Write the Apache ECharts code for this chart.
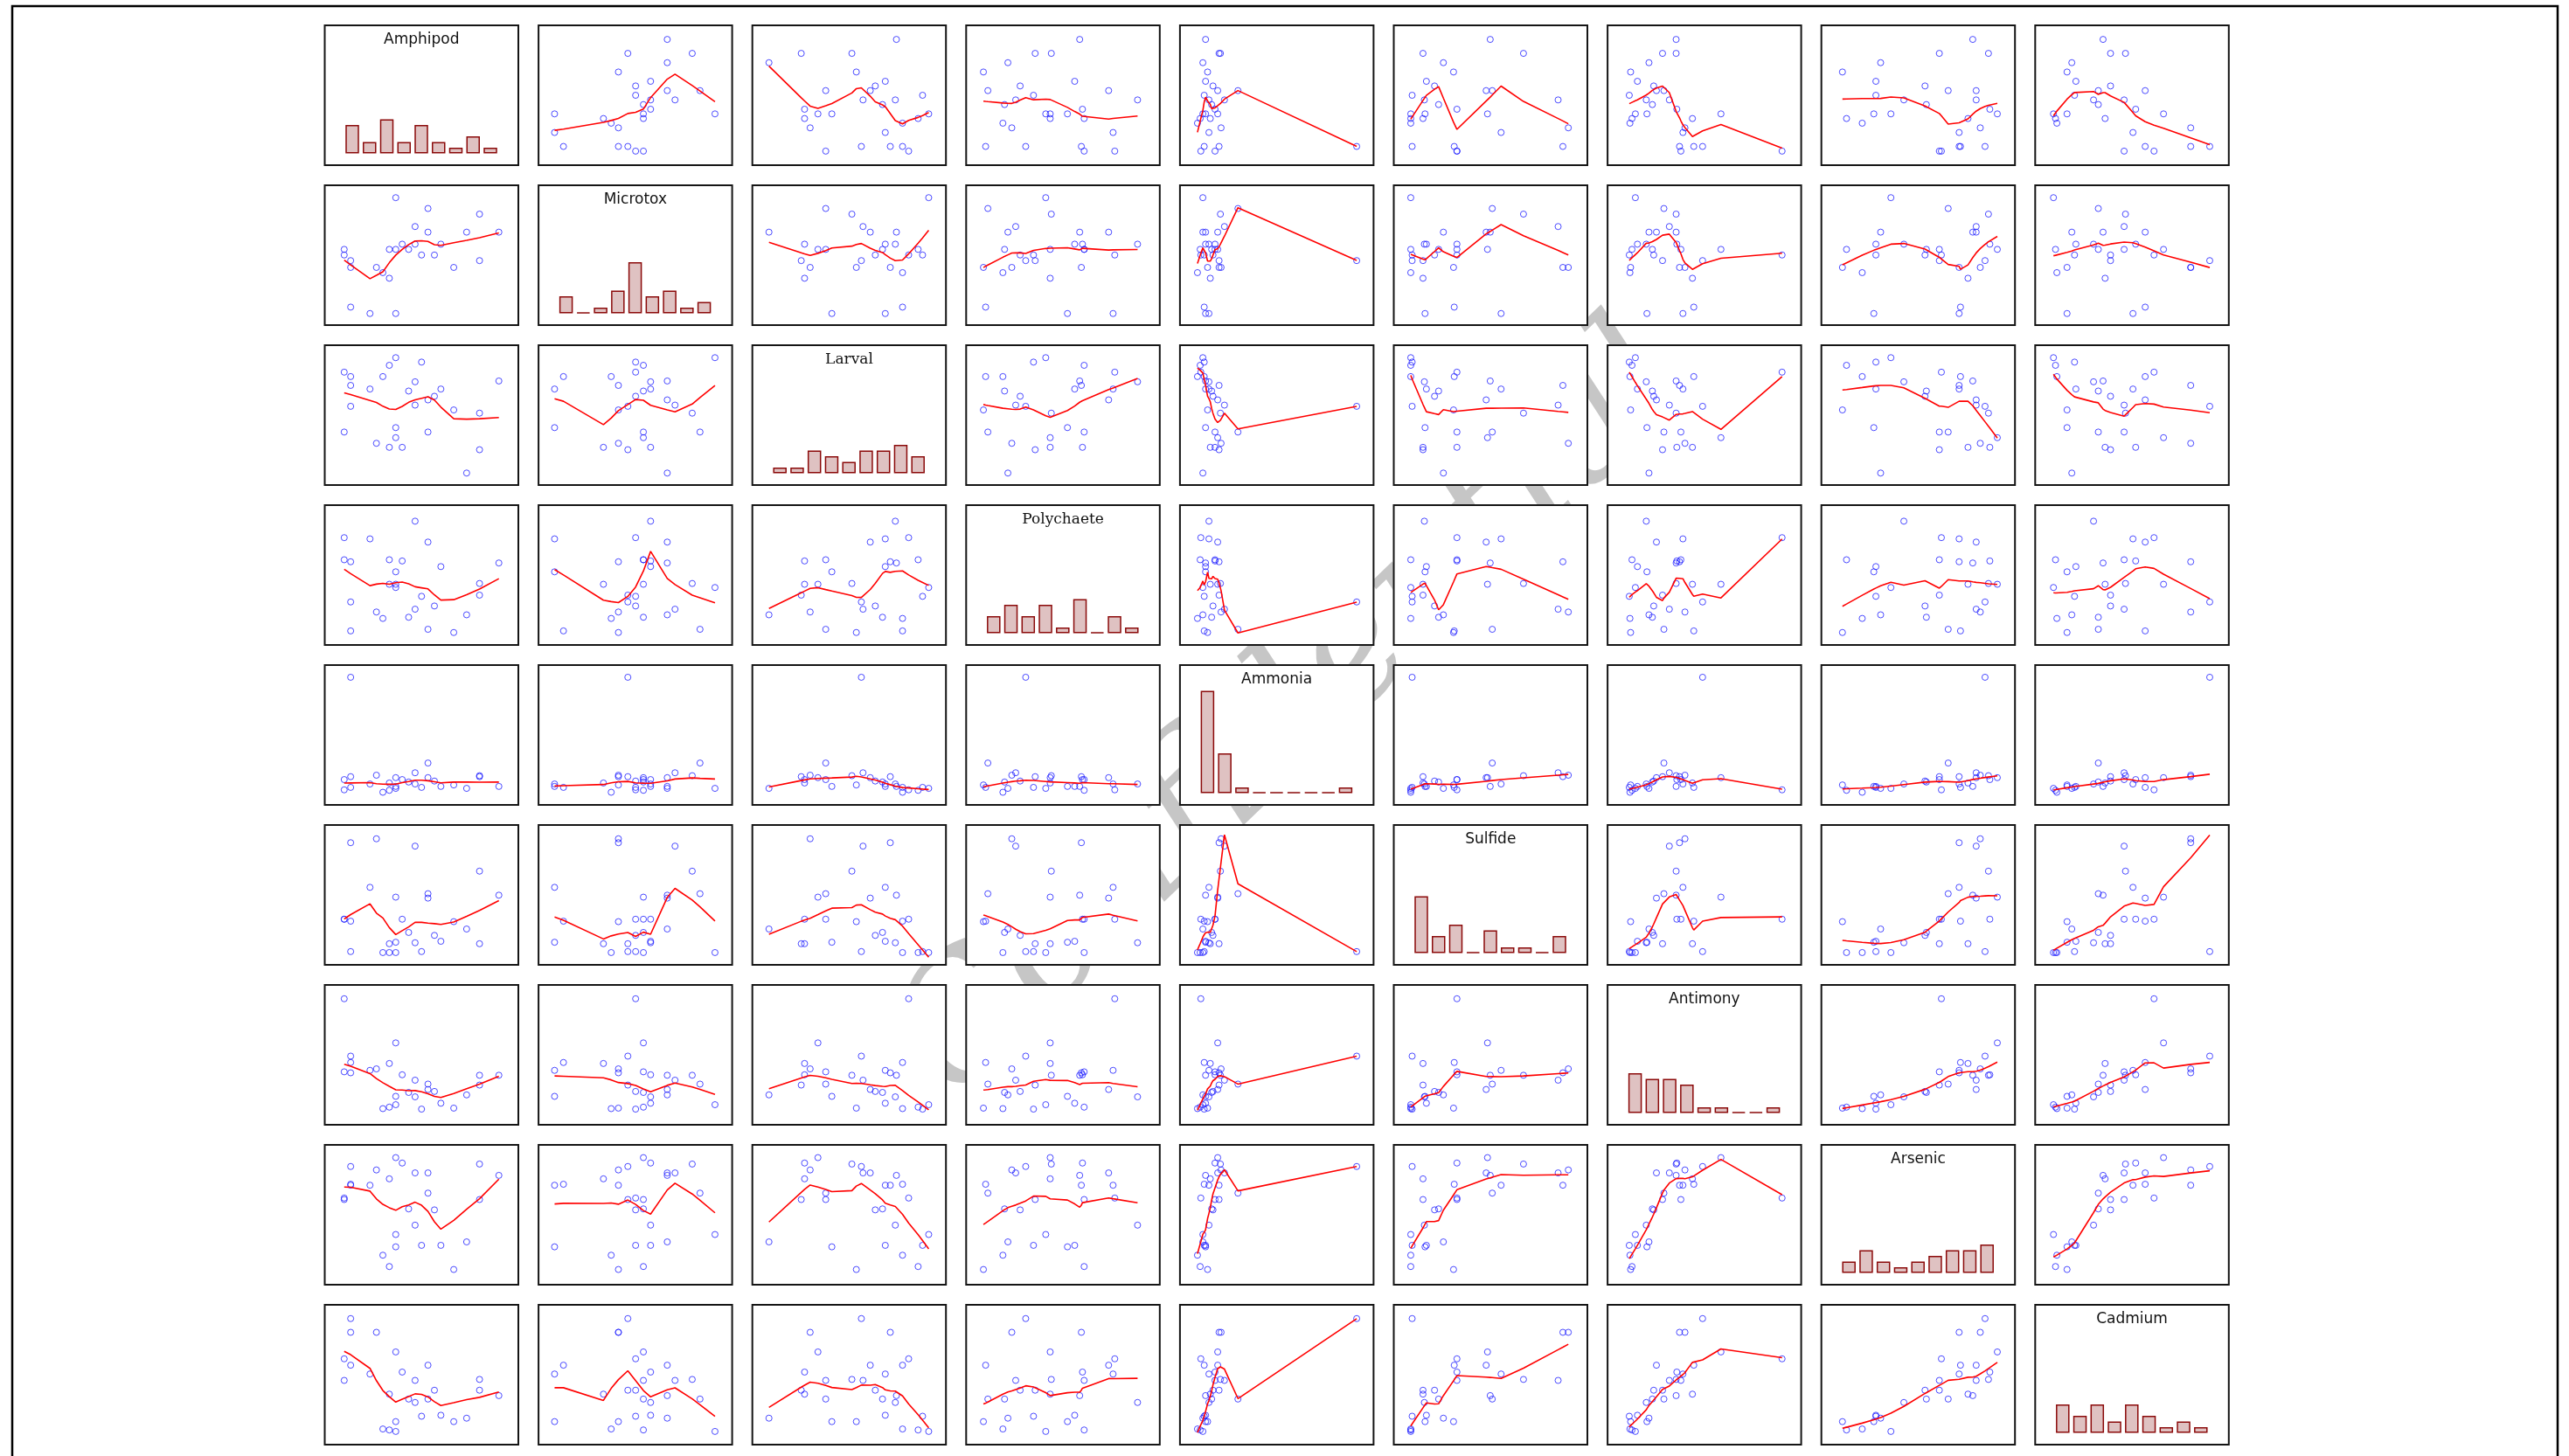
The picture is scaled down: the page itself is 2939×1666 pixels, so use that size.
<!DOCTYPE html>
<html>
<head>
<meta charset="utf-8">
<script src="https://cdn.jsdelivr.net/npm/echarts@6/dist/echarts.min.js"></script>
<style>
html,body{margin:0;padding:0;background:#fff;}
#chart{width:2939px;height:1666px;}
</style>
</head>
<body>
<div id="chart"></div>
<script>
// ---- data (27 sampling stations; relative units) ----
const variableNames = ['Amphipod','Microtox','Larval','Polychaete','Ammonia','Sulfide','Antimony','Arsenic','Cadmium'];
const amphipod   = [78,74,71,77,76,75,71,71,70,70,91,87,84,82,80,78,77,85,81,79,94,89,83,81,91,83,78];
const microtox   = [28,28,44,116,130,143,143,160,174,188,160,143,174,174,188,188,188,201,201,201,231,231,231,245,276,290,317];
const larval     = [143,239,270,94,270,104,248,196,281,132,88,187,221,306,234,118,298,239,257,94,259,30,212,199,179,132,317];
const polychaete = [182,264,35,151,66,82,207,107,267,212,124,31,97,121,69,151,212,195,308,209,204,75,256,89,153,39,143];
const ammonia    = [38,43,36,45,26,61,58,262,31,52,58,41,49,36,47,56,30,38,43,52,38,34,56,66,60,86,34];
const sulfide    = [46,158,89,43,25,257,249,27,93,93,43,88,60,27,66,138,25,48,45,93,142,73,136,242,191,145,25];
const antimony   = [58,111,127,125,33,114,106,140,257,108,81,34,68,32,66,167,36,44,57,102,101,61,72,91,101,83,41];
const arsenic    = [77,202,204,215,60,233,202,240,176,173,173,31,152,80,154,258,37,80,121,247,222,87,227,227,245,186,102];
const cadmium    = [47,144,162,103,32,229,229,257,175,131,111,47,111,58,93,189,30,60,86,148,100,54,162,131,133,93,27];
const variables = [amphipod, microtox, larval, polychaete, ammonia, sulfide, antimony, arsenic, cadmium];
const histBins = 9;
const smoothSpan = 0.5, smoothIter = 2;

// ---- style / layout ----
const axisPad = [[0.126,0.126],[0.100,0.107],[0.104,0.108],[0.112,0.144],[0.110,0.106],[0.108,0.121],[0.142,0.125],[0.136,0.114],[0.117,0.122]];
const serifLabel = {Larval:true, Polychaete:true};
const PANEL_LEFT0 = 371.5, PITCH_X = 244.6, PANEL_W = 221.5;
const PANEL_TOP0 = 29, PITCH_Y = 183, PANEL_H = 160;
const HIST_FIRST_CENTER = 31.5, HIST_PITCH = 19.75, HIST_ZERO = 13.4, HIST_UNIT = 6.5;

// ---- R-style lowess (clowess port) ----
function lowest(x, y, n, xs, nleft, nright, w, userw, rw) {
  const range = x[n-1] - x[0];
  const h = Math.max(xs - x[nleft], x[nright] - xs);
  const h9 = 0.999*h, h1 = 0.001*h;
  let a = 0, j = nleft;
  while (j < n) {
    w[j] = 0;
    const r = Math.abs(x[j] - xs);
    if (r <= h9) {
      if (r <= h1) w[j] = 1;
      else { const q = r/h; const t = 1 - q*q*q; w[j] = t*t*t; }
      if (userw) w[j] *= rw[j];
      a += w[j];
    } else if (x[j] > xs) break;
    j++;
  }
  const nrt = j - 1;
  if (a <= 0) return null;
  for (j = nleft; j <= nrt; j++) w[j] /= a;
  if (h > 0) {
    a = 0;
    for (j = nleft; j <= nrt; j++) a += w[j]*x[j];
    let b = xs - a, c = 0;
    for (j = nleft; j <= nrt; j++) c += w[j]*(x[j]-a)*(x[j]-a);
    if (Math.sqrt(c) > 0.001*range) {
      b /= c;
      for (j = nleft; j <= nrt; j++) w[j] *= (b*(x[j]-a) + 1);
    }
  }
  let ys = 0;
  for (j = nleft; j <= nrt; j++) ys += w[j]*y[j];
  return ys;
}
function lowess(xIn, yIn, f, nsteps) {
  const n = xIn.length;
  const order = xIn.map((v,i)=>i).sort((a,b)=> (xIn[a]-xIn[b]) || (a-b));
  const x = order.map(i=>xIn[i]), y = order.map(i=>yIn[i]);
  const delta = 0.01*(x[n-1]-x[0]);
  const ys = new Array(n).fill(0), rw = new Array(n).fill(1), res = new Array(n).fill(0);
  const ns = Math.max(2, Math.min(n, Math.floor(f*n + 1e-7)));
  let iter = 1;
  while (iter <= nsteps + 1) {
    let nleft = 0, nright = ns - 1, last = -1, i = 0;
    for (;;) {
      if (nright < n - 1) {
        const d1 = x[i] - x[nleft], d2 = x[nright+1] - x[i];
        if (d1 > d2) { nleft++; nright++; continue; }
      }
      const v = lowest(x, y, n, x[i], nleft, nright, res, iter > 1, rw);
      ys[i] = (v === null) ? y[i] : v;
      if (last < i - 1) {
        const denom = x[i] - x[last];
        for (let j = last + 1; j < i; j++) {
          const alpha = (x[j] - x[last]) / denom;
          ys[j] = alpha*ys[i] + (1 - alpha)*ys[last];
        }
      }
      last = i;
      const cut = x[last] + delta;
      for (i = last + 1; i < n; i++) {
        if (x[i] > cut) break;
        if (x[i] === x[last]) { ys[i] = ys[last]; last = i; }
      }
      i = Math.max(last + 1, i - 1);
      if (last >= n - 1) break;
    }
    for (let k = 0; k < n; k++) res[k] = y[k] - ys[k];
    let sc = 0; for (let k = 0; k < n; k++) sc += Math.abs(res[k]); sc /= n;
    if (iter > nsteps) break;
    for (let k = 0; k < n; k++) rw[k] = Math.abs(res[k]);
    const srt = rw.slice().sort((a,b)=>a-b);
    const m1 = Math.floor(n/2);
    let cmad;
    if (n % 2 === 0) { const m2 = n - m1 - 1; cmad = 3*(srt[m1] + srt[m2]); }
    else cmad = 6*srt[m1];
    if (cmad < 1e-7*sc) break;
    const c9 = 0.999*cmad, c1 = 0.001*cmad;
    for (let k = 0; k < n; k++) {
      const r = Math.abs(res[k]);
      if (r <= c1) rw[k] = 1;
      else if (r <= c9) { const q = r/cmad; rw[k] = (1-q*q)*(1-q*q); }
      else rw[k] = 0;
    }
    iter++;
  }
  return x.map((v,k)=>[v, ys[k]]);
}

// right-closed equal-width histogram (like R hist)
function histCounts(vals, nb) {
  const mn = Math.min(...vals), mx = Math.max(...vals), w = (mx - mn)/nb;
  const counts = new Array(nb).fill(0);
  vals.forEach(v => {
    let k = Math.ceil((v - mn)/w - 1e-7) - 1;
    if (k < 0) k = 0; if (k > nb-1) k = nb-1;
    counts[k]++;
  });
  return counts;
}
function axisRange(k) {
  const vals = variables[k];
  const mn = Math.min(...vals), mx = Math.max(...vals), rg = mx - mn;
  return [mn - axisPad[k][0]*rg, mx + axisPad[k][1]*rg];
}

const grids = [], xAxes = [], yAxes = [], series = [], graphics = [];
const nv = variables.length;
for (let r = 0; r < nv; r++) {
  for (let c = 0; c < nv; c++) {
    const gi = grids.length;
    const left = PANEL_LEFT0 + PITCH_X*c, top = PANEL_TOP0 + PITCH_Y*r;
    grids.push({left: left, top: top, width: PANEL_W, height: PANEL_H, show: true,
      backgroundColor: '#ffffff', borderColor: '#151515', borderWidth: 2});
    if (r === c) {
      const xmin = -HIST_FIRST_CENTER/HIST_PITCH, ymin = -HIST_ZERO/HIST_UNIT;
      xAxes.push({type: 'value', gridIndex: gi, show: false, min: xmin, max: xmin + PANEL_W/HIST_PITCH});
      yAxes.push({type: 'value', gridIndex: gi, show: false, min: ymin, max: ymin + PANEL_H/HIST_UNIT});
      const counts = histCounts(variables[r], histBins);
      series.push({type: 'bar', xAxisIndex: gi, yAxisIndex: gi, barWidth: 15.5, barMinHeight: 1,
        data: counts.map((ct,k)=>[k, ct]), silent: true,
        itemStyle: {color: '#dfc2c2', borderColor: '#8b0a0a', borderWidth: 1.5}});
      const serif = serifLabel[variableNames[r]];
      graphics.push({type: 'text', z: 100, x: left + PANEL_W/2, y: top + 17,
        style: {text: variableNames[r], fill: '#111',
          font: serif ? '17px "DejaVu Serif"' : '17px "DejaVu Sans"',
          textAlign: 'center', textVerticalAlign: 'middle', align: 'center', verticalAlign: 'middle'}});
    } else {
      const xr = axisRange(c), yr = axisRange(r);
      xAxes.push({type: 'value', gridIndex: gi, show: false, min: xr[0], max: xr[1]});
      yAxes.push({type: 'value', gridIndex: gi, show: false, min: yr[0], max: yr[1]});
      const xs = variables[c], ysv = variables[r];
      series.push({type: 'scatter', xAxisIndex: gi, yAxisIndex: gi, symbol: 'circle', symbolSize: 7,
        silent: true, z: 2,
        itemStyle: {color: 'rgba(0,0,0,0)', borderColor: '#1f1fff', borderWidth: 1},
        data: xs.map((v,k)=>[v, ysv[k]])});
      series.push({type: 'line', xAxisIndex: gi, yAxisIndex: gi, showSymbol: false, symbol: 'none',
        silent: true, z: 3, lineStyle: {color: '#ff0000', width: 1.6},
        data: lowess(xs, ysv, smoothSpan, smoothIter)});
    }
  }
}

// outer frame and faint watermark
graphics.push({type: 'rect', z: 100, shape: {x: 14, y: 7, width: 2912, height: 1720},
  style: {fill: 'none', stroke: '#000', lineWidth: 2.5}});
graphics.push({type: 'text', z: -10, zlevel: 0, x: 1480, y: 820, rotation: 0.768,
  style: {text: 'Confidential', font: 'italic 190px "DejaVu Serif"', fill: '#c6c6c6',
    textAlign: 'center', textVerticalAlign: 'middle', align: 'center', verticalAlign: 'middle'}});

const chart = echarts.init(document.getElementById('chart'), null, {renderer: 'canvas'});
chart.setOption({
  animation: false,
  backgroundColor: '#ffffff',
  grid: grids, xAxis: xAxes, yAxis: yAxes, series: series,
  graphic: {elements: graphics}
});
</script>
</body>
</html>
